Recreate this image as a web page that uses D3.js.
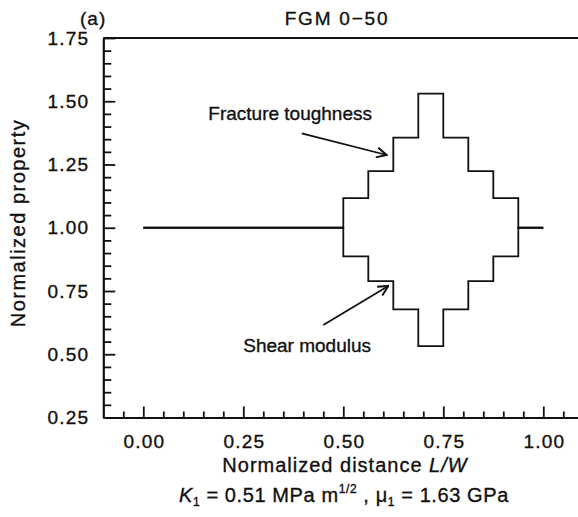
<!DOCTYPE html>
<html>
<head>
<meta charset="utf-8">
<script src="https://cdn.jsdelivr.net/npm/d3@7"></script>
<style>
  body { margin: 0; background: #fff; }
  svg text { font-family: "Liberation Sans", Arial, Helvetica, sans-serif; fill: #111; stroke: #111; stroke-width: 0.35; }
</style>
</head>
<body>
<div id="chart"></div>
<script>
// step edges along L/W and the level of each segment
const edges = [0, 0.5, 0.5625, 0.625, 0.6875, 0.75, 0.8125, 0.875, 0.9375, 1.0];
const toughness = [1.0, 1.117, 1.224, 1.356, 1.53, 1.356, 1.224, 1.117, 1.0];
const shear = [1.0, 0.887, 0.789, 0.677, 0.532, 0.677, 0.789, 0.887, 1.0];

const xTicks = [0, 0.25, 0.5, 0.75, 1.0];
const yTicks = [0.25, 0.5, 0.75, 1.0, 1.25, 1.5, 1.75];

let width = 578, height = 517;

let svg = d3.select('#chart')
    .append('svg')
    .attr('width', width)
    .attr('height', height);

let x = d3.scaleLinear().domain([-0.1, 1.0875]).range([103.3, 578.3]);
let y = d3.scaleLinear().domain([0.25, 1.75]).range([417.5, 38]);

function stepPoints(vals) {
    let pts = vals.map((v, i) => [edges[i], v]);
    pts.push([edges[edges.length - 1], vals[vals.length - 1]]);
    return pts;
}

let line = d3.line()
    .x(d => x(d[0]))
    .y(d => y(d[1]))
    .curve(d3.curveStepAfter);

// minor ticks first
let minorX = d3.range(-0.05, 1.06, 0.05).filter(v => Math.abs(v * 4 - Math.round(v * 4)) > 1e-6);
let minorY = d3.range(0.25, 1.75, 0.05).filter(v => Math.abs(v * 4 - Math.round(v * 4)) > 1e-6);

svg.append("g")
    .attr("transform", "translate(0," + y(0.25) + ")")
    .call(d3.axisBottom(x).tickValues(minorX).tickSize(-6).tickSizeOuter(0).tickFormat(""))
    .call(g => g.select(".domain").remove())
    .selectAll("line").attr("stroke", "#111").attr("stroke-width", 1.8);

svg.append("g")
    .attr("transform", "translate(" + x(-0.1) + ",0)")
    .call(d3.axisLeft(y).tickValues(minorY).tickSize(-8).tickSizeOuter(0).tickFormat(""))
    .call(g => g.select(".domain").remove())
    .selectAll("line").attr("stroke", "#111").attr("stroke-width", 1.8);

let xAxis = svg.append("g")
    .attr("transform", "translate(0," + y(0.25) + ")")
    .call(d3.axisBottom(x).tickValues(xTicks).tickSize(-11).tickSizeOuter(0)
        .tickPadding(17).tickFormat(d3.format(".2f")));
xAxis.select(".domain").attr("stroke", "#111").attr("stroke-width", 2.2);
xAxis.selectAll(".tick line").attr("stroke", "#111").attr("stroke-width", 1.8);
xAxis.selectAll("text").attr("font-size", 19).attr("fill", "#111").attr("letter-spacing", 1.2)
    .attr("dx", 0.6);

let yAxis = svg.append("g")
    .attr("transform", "translate(" + x(-0.1) + ",0)")
    .call(d3.axisLeft(y).tickValues(yTicks).tickSize(-12).tickSizeOuter(0)
        .tickPadding(14).tickFormat(d3.format(".2f")));
yAxis.select(".domain").attr("stroke", "#111").attr("stroke-width", 2.2);
yAxis.selectAll(".tick line").attr("stroke", "#111").attr("stroke-width", 1.8);
yAxis.selectAll("text").attr("font-size", 19).attr("fill", "#111").attr("letter-spacing", 1.2);

// top border
svg.append("line")
    .attr("x1", x(-0.1)).attr("x2", x(1.0875))
    .attr("y1", y(1.75)).attr("y2", y(1.75))
    .attr("stroke", "#111").attr("stroke-width", 2.2);

// step curves
[toughness, shear].forEach(vals => {
    svg.append("path")
        .datum(stepPoints(vals))
        .attr("fill", "none")
        .attr("stroke", "#111")
        .attr("stroke-width", 1.8)
        .attr("d", line);
});

// arrows
svg.append("defs").append("marker")
    .attr("id", "arr")
    .attr("viewBox", "0 0 12 12")
    .attr("refX", 11).attr("refY", 6)
    .attr("markerWidth", 12).attr("markerHeight", 12)
    .attr("markerUnits", "userSpaceOnUse")
    .attr("orient", "auto")
    .append("path")
    .attr("d", "M1,1 L11,6 L1,11")
    .attr("fill", "none")
    .attr("stroke", "#111")
    .attr("stroke-width", 2);

svg.append("line")
    .attr("x1", 301.7).attr("y1", 133.3)
    .attr("x2", 386.7).attr("y2", 155)
    .attr("stroke", "#111").attr("stroke-width", 1.8)
    .attr("marker-end", "url(#arr)");

svg.append("line")
    .attr("x1", 323.3).attr("y1", 325)
    .attr("x2", 388.3).attr("y2", 286)
    .attr("stroke", "#111").attr("stroke-width", 1.8)
    .attr("marker-end", "url(#arr)");

svg.append("text")
    .attr("x", 372).attr("y", 120)
    .attr("text-anchor", "end")
    .attr("font-size", 19)
    .text("Fracture toughness");

svg.append("text")
    .attr("x", 371).attr("y", 352)
    .attr("text-anchor", "end")
    .attr("font-size", 19)
    .text("Shear modulus");

// titles
svg.append("text")
    .attr("x", 80).attr("y", 25)
    .attr("font-size", 19)
    .attr("letter-spacing", 1)
    .text("(a)");

svg.append("text")
    .attr("x", 337).attr("y", 25)
    .attr("text-anchor", "middle")
    .attr("font-size", 19)
    .attr("letter-spacing", 1.8)
    .text("FGM 0\u221250");

svg.append("text")
    .attr("transform", "translate(25,223) rotate(-90)")
    .attr("text-anchor", "middle")
    .attr("font-size", 20)
    .attr("letter-spacing", 1.5)
    .text("Normalized property");

let xl = svg.append("text")
    .attr("x", 345).attr("y", 472)
    .attr("text-anchor", "middle")
    .attr("font-size", 20)
    .attr("letter-spacing", 1);
xl.append("tspan").text("Normalized distance ");
xl.append("tspan").attr("font-style", "italic").text("L/W");

let sub = svg.append("text")
    .attr("x", 344).attr("y", 502)
    .attr("text-anchor", "middle")
    .attr("font-size", 20)
    .attr("letter-spacing", 0.6);
sub.append("tspan").attr("font-style", "italic").text("K");
sub.append("tspan").attr("font-size", 12).attr("dy", 4).text("1");
sub.append("tspan").attr("dy", -4).text(" = 0.51 MPa m");
sub.append("tspan").attr("font-size", 12).attr("dy", -9).text("1/2");
sub.append("tspan").attr("dy", 9).text(" ,  \u03bc");
sub.append("tspan").attr("font-size", 12).attr("dy", 4).text("1");
sub.append("tspan").attr("dy", -4).text(" = 1.63 GPa");
</script>
</body>
</html>
